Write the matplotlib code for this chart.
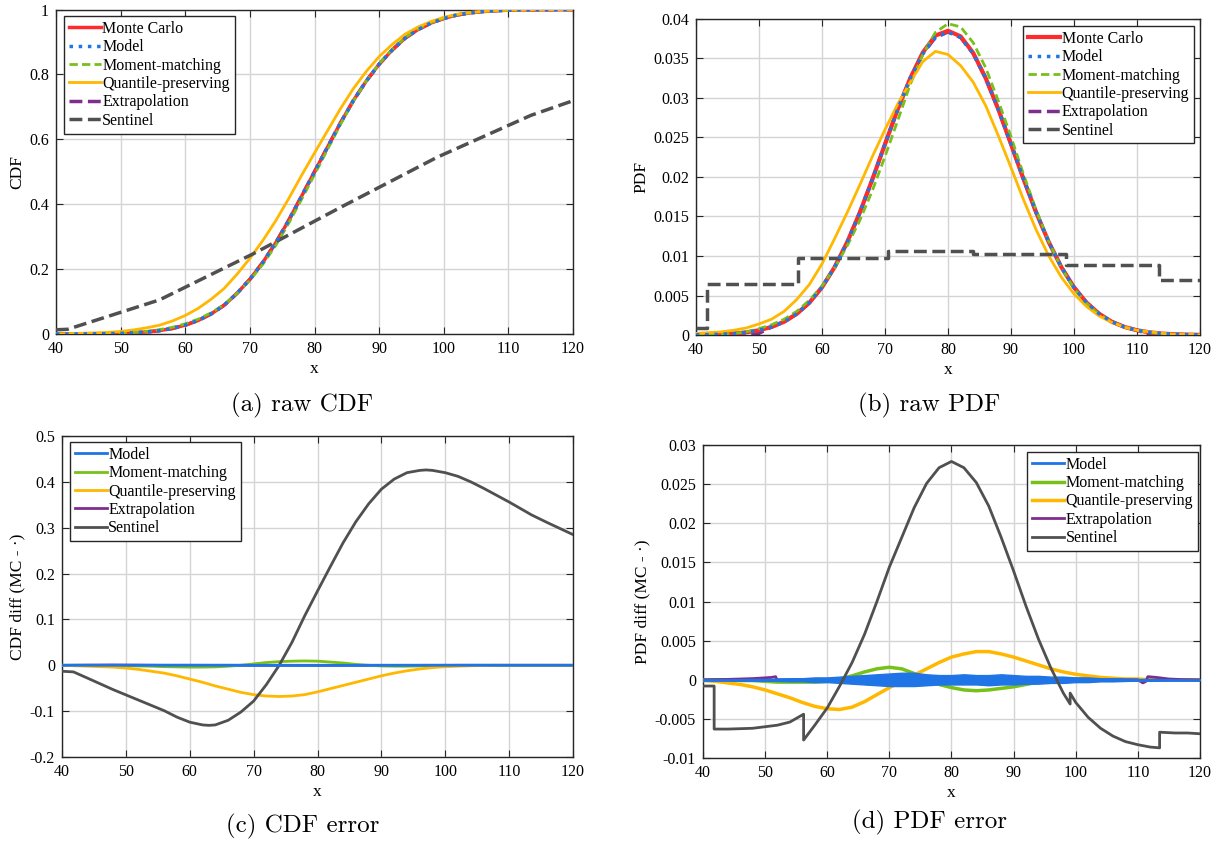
import matplotlib
matplotlib.use('Agg')
import matplotlib.pyplot as plt
from matplotlib.ticker import FuncFormatter, MultipleLocator

plt.rcParams['font.family'] = ['Liberation Serif', 'DejaVu Serif']
plt.rcParams['axes.unicode_minus'] = False

# common x grid (step 2)
x = list(range(40, 121, 2))

# ---- (a) raw CDF ----
cdf_mc = [0.0001, 0.0001, 0.0003, 0.0005, 0.001, 0.002, 0.0036, 0.0062, 0.0104, 0.017, 0.0274,
          0.0418, 0.0618, 0.0885, 0.1251, 0.1685, 0.2206, 0.281, 0.35, 0.4247, 0.5, 0.5753, 0.65,
          0.719, 0.7794, 0.8315, 0.8749, 0.9115, 0.9382, 0.9582, 0.9726, 0.983, 0.9896, 0.9938,
          0.9964, 0.998, 0.999, 0.9995, 0.9997, 0.9999, 0.9999]
cdf_model = [0.0001, 0.0001, 0.0003, 0.0005, 0.001, 0.002, 0.0036, 0.0062, 0.0104, 0.017, 0.0275,
             0.0419, 0.0619, 0.0886, 0.1251, 0.1684, 0.2205, 0.281, 0.3501, 0.4248, 0.5, 0.5752, 0.6499,
             0.719, 0.7794, 0.8314, 0.8749, 0.9115, 0.9382, 0.9582, 0.9726, 0.983, 0.9896, 0.9938,
             0.9964, 0.998, 0.999, 0.9995, 0.9997, 0.9999, 0.9999]
cdf_mm = [0.0001, 0.0001, 0.0003, 0.0008, 0.0015, 0.003, 0.0051, 0.0082, 0.0134, 0.0205, 0.0314,
          0.0458, 0.0653, 0.0905, 0.1251, 0.1655, 0.2146, 0.273, 0.341, 0.4152, 0.491, 0.5683, 0.645,
          0.717, 0.7794, 0.833, 0.8769, 0.9135, 0.9397, 0.9592, 0.9731, 0.983, 0.9896, 0.9938,
          0.9964, 0.998, 0.999, 0.9995, 0.9997, 0.9999, 0.9999]
cdf_qp = [0.0001, 0.0011, 0.0023, 0.0035, 0.005, 0.008, 0.0126, 0.019, 0.027, 0.040, 0.057,
          0.079, 0.107, 0.140, 0.184, 0.233, 0.288, 0.349, 0.417, 0.489, 0.558, 0.626, 0.694,
          0.756, 0.809, 0.855, 0.892, 0.924, 0.946, 0.963, 0.976, 0.985, 0.991, 0.994,
          0.9966, 0.998, 0.999, 0.9995, 0.9997, 0.9999, 0.9999]
cdf_ext = [0.0, 0.0, 0.0001, 0.0003, 0.0007, 0.0016, 0.0036, 0.0062, 0.0104, 0.017, 0.0274,
           0.0418, 0.0618, 0.0885, 0.1251, 0.1685, 0.2206, 0.281, 0.35, 0.4247, 0.5, 0.5753, 0.65,
           0.719, 0.7794, 0.8315, 0.8749, 0.9115, 0.9382, 0.9582, 0.9726, 0.983, 0.9896, 0.9938,
           0.9964, 0.998, 0.9992, 0.9996, 0.9998, 0.9999, 0.9999]
sent_cdf_x = [40, 41.8, 56, 70.5, 84, 99, 113.5, 120]
sent_cdf = [0.013, 0.0145, 0.105, 0.247, 0.390, 0.545, 0.674, 0.719]

# ---- (b) raw PDF ----
pdf_mc = [0.00002, 0.00005, 0.0001, 0.00018, 0.00034, 0.0006, 0.00102, 0.00168, 0.00268, 0.00409,
          0.00604, 0.00858, 0.01175, 0.0155, 0.01971, 0.02416, 0.02854, 0.03248, 0.03575, 0.0379,
          0.0385, 0.0378, 0.0357, 0.03248, 0.02854, 0.02416, 0.01971, 0.0155, 0.01175, 0.00858,
          0.00604, 0.00409, 0.00268, 0.00168, 0.00102, 0.0006, 0.00034, 0.00018, 0.0001, 0.00005, 0.00002]
pdf_model = [0.00002, 0.00005, 0.0001, 0.00018, 0.00034, 0.0006, 0.00102, 0.00168, 0.00268, 0.00409,
             0.00604, 0.00858, 0.01175, 0.0155, 0.01971, 0.02416, 0.02854, 0.03248, 0.03562, 0.03766,
             0.03836, 0.03766, 0.03562, 0.03248, 0.02854, 0.02416, 0.01971, 0.0155, 0.01175, 0.00858,
             0.00604, 0.00409, 0.00268, 0.00168, 0.00102, 0.0006, 0.00034, 0.00018, 0.0001, 0.00005, 0.00002]
pdf_mm = [0.00002, 0.00005, 0.0001, 0.0002, 0.0004, 0.0008, 0.0013, 0.002, 0.003, 0.0044,
          0.0062, 0.0085, 0.0113, 0.0145, 0.0183, 0.0226, 0.0271, 0.0317, 0.0355, 0.0383,
          0.0394, 0.039, 0.037, 0.0338, 0.0296, 0.0251, 0.0203, 0.0158, 0.0118, 0.0085,
          0.0059, 0.004, 0.0026, 0.0017, 0.001, 0.0006, 0.0003, 0.0002, 0.0001, 0.00005, 0.00002]
pdf_qp = [0.0002, 0.0003, 0.0004, 0.0006, 0.0009, 0.0014, 0.0020, 0.0030, 0.0045, 0.0064,
          0.0090, 0.0122, 0.0155, 0.0190, 0.0226, 0.0260, 0.0292, 0.0320, 0.0346, 0.0359,
          0.0355, 0.0341, 0.0320, 0.0290, 0.0252, 0.0212, 0.0171, 0.0133, 0.0100, 0.0073,
          0.0052, 0.0036, 0.0024, 0.0016, 0.0010, 0.0006, 0.0004, 0.0002, 0.0001, 0.0001, 0.0]
pdf_ext = [0.0, 0.00002, 0.00004, 0.00007, 0.00012, 0.00022, 0.00102, 0.00168, 0.00268, 0.00409,
           0.00604, 0.00858, 0.01175, 0.0155, 0.01971, 0.02416, 0.02854, 0.03248, 0.03562, 0.03766,
           0.03836, 0.03766, 0.03562, 0.03248, 0.02854, 0.02416, 0.01971, 0.0155, 0.01175, 0.00858,
           0.00604, 0.00409, 0.00268, 0.00168, 0.00102, 0.0006, 0.00008, 0.00005, 0.00003, 0.00002, 0.00001]
sent_pdf_x = [40, 41.8, 41.8, 56.2, 56.2, 70.5, 70.5, 84, 84, 98.8, 98.8, 113.5, 113.5, 120]
sent_pdf = [0.0009, 0.0009, 0.0064, 0.0064, 0.0098, 0.0098, 0.0106, 0.0106, 0.0103, 0.0103,
            0.0089, 0.0089, 0.0069, 0.0069]

# ---- (c) CDF error (MC - method) ----
cdf_diff_model_x = [40, 60, 80, 100, 120]
cdf_diff_model = [0.0, 0.0002, -0.0003, 0.0001, 0.0]
cdf_diff_mm = [0, 0, 0, -0.0003, -0.0005, -0.001, -0.0015, -0.002, -0.003, -0.0035, -0.004,
               -0.004, -0.0035, -0.002, 0.0, 0.003, 0.006, 0.008, 0.009, 0.0095, 0.009, 0.007, 0.005,
               0.002, 0.0, -0.0015, -0.002, -0.002, -0.0015, -0.001, -0.0005, 0, 0, 0, 0, 0, 0, 0, 0, 0, 0]
cdf_diff_qp = [0.0, -0.001, -0.002, -0.003, -0.004, -0.006, -0.009, -0.013, -0.017, -0.023, -0.030,
               -0.037, -0.045, -0.052, -0.059, -0.064, -0.067, -0.068, -0.067, -0.064, -0.058, -0.051,
               -0.044, -0.037, -0.030, -0.023, -0.017, -0.012, -0.008, -0.005, -0.003, -0.002, -0.001,
               -0.0005, 0, 0, 0, 0, 0, 0, 0]
cdf_diff_ext_x = [40, 44, 48, 52, 56, 120]
cdf_diff_ext = [0.0, 0.0004, 0.0007, 0.0004, 0.0, 0.0]
cdf_diff_sent_x = [40, 41.8, 44, 48, 52, 56, 58, 60, 62, 63, 64, 66, 68, 70, 72, 74, 76, 78, 80, 82,
                   84, 86, 88, 90, 92, 94, 96, 97, 98, 100, 102, 104, 106, 108, 110, 112, 113.5, 116,
                   118, 120]
cdf_diff_sent = [-0.013, -0.0144, -0.028, -0.053, -0.076, -0.099, -0.113, -0.124, -0.13, -0.131,
                 -0.13, -0.12, -0.102, -0.078, -0.042, 0.0, 0.05, 0.108, 0.162, 0.215, 0.267, 0.313,
                 0.352, 0.384, 0.406, 0.42, 0.425, 0.426, 0.425, 0.42, 0.412, 0.40, 0.386, 0.371,
                 0.356, 0.34, 0.328, 0.311, 0.298, 0.285]

# ---- (d) PDF error (MC - method) ----
pdf_diff_model_hi = [0.00005, 0.00005, 0.00005, 0.00008, 0.0001, 0.0001, 0.00015, 0.0002, 0.0002,
                     0.0003, 0.0003, 0.0004, 0.0005, 0.0006, 0.0007, 0.0008, 0.0009, 0.0009, 0.0007,
                     0.0006, 0.0006, 0.0007, 0.0006, 0.0006, 0.0007, 0.0006, 0.0005, 0.0005, 0.0004,
                     0.0004, 0.0003, 0.0003, 0.0002, 0.0002, 0.00015, 0.0001, 0.0001, 0.00008,
                     0.00005, 0.00005, 0.00005]
pdf_diff_model_lo = [-0.00005, -0.00005, -0.00005, -0.00008, -0.0001, -0.0001, -0.00015, -0.0002,
                     -0.0002, -0.0003, -0.0003, -0.0004, -0.0005, -0.0006, -0.0007, -0.0008, -0.0008,
                     -0.0008, -0.0007, -0.0006, -0.0006, -0.0006, -0.0006, -0.0007, -0.0006, -0.0006,
                     -0.0005, -0.0005, -0.0004, -0.0004, -0.0003, -0.0003, -0.0002, -0.0002, -0.00015,
                     -0.0001, -0.0001, -0.00008, -0.00005, -0.00005, -0.00005]
pdf_diff_mm = [0, 0, 0, -0.0001, -0.0001, -0.0002, -0.0003, -0.0003, -0.0003, -0.0003, -0.0002,
               0.0001, 0.0005, 0.0010, 0.0014, 0.0016, 0.0014, 0.0008, 0.0001, -0.0006, -0.0010,
               -0.0013, -0.0014, -0.0013, -0.0011, -0.0009, -0.0006, -0.0003, 0.0, 0.0001, 0.0001,
               0.0001, 0.0001, 0, 0, 0, 0, 0, 0, 0, 0]
pdf_diff_qp = [-0.0001, -0.0002, -0.0004, -0.0006, -0.0009, -0.0013, -0.0018, -0.0023, -0.0029,
               -0.0034, -0.0037, -0.0038, -0.0035, -0.0028, -0.0019, -0.0010, -0.0002, 0.0006,
               0.0014, 0.0022, 0.0029, 0.0033, 0.0036, 0.0036, 0.0033, 0.0029, 0.0024, 0.0019,
               0.0014, 0.0010, 0.0007, 0.0005, 0.0003, 0.0002, 0.0001, 0.0001, 0, 0, 0, 0, 0]
pdf_diff_ext_x = [40, 44, 46, 48, 50, 51, 51.7, 51.9, 54, 108, 110, 110.8, 111.3, 111.6, 113, 115,
                  117, 120]
pdf_diff_ext = [0, 0.00005, 0.0001, 0.00015, 0.00025, 0.0003, 0.0004, 0.0, 0, 0, 0, -0.0004,
                -0.0002, 0.0004, 0.0003, 0.0001, 0.00003, 0]
pdf_diff_sent_x = [40, 41.8, 41.8, 44, 48, 52, 54, 56.2, 56.2, 58, 60, 62, 64, 66, 68, 70, 72, 74,
                   76, 78, 80, 82, 84, 86, 88, 90, 92, 94, 96, 98, 99.1, 99.1, 100, 102, 104, 106,
                   108, 110, 112, 113.5, 113.5, 116, 118, 120]
pdf_diff_sent = [-0.0008, -0.0008, -0.0063, -0.0063, -0.0062, -0.0058, -0.0054, -0.0044, -0.0077,
                 -0.0058, -0.0036, -0.0008, 0.0022, 0.0058, 0.0100, 0.0144, 0.0182, 0.0220, 0.0251,
                 0.0271, 0.0279, 0.0271, 0.0252, 0.0222, 0.0182, 0.0139, 0.0094, 0.0052, 0.0015,
                 -0.0017, -0.0031, -0.0017, -0.0029, -0.0048, -0.0062, -0.0072, -0.0079, -0.0083,
                 -0.0086, -0.0087, -0.0067, -0.0068, -0.0068, -0.0069]

# colours
c_red = '#FF2B2B'
c_blue = '#1F74E6'
c_green = '#77C11A'
c_yellow = '#FFB700'
c_purple = '#7E2F8E'
c_gray = '#505050'

fig = plt.figure(figsize=(12.2, 8.43), dpi=100)
ax_a = fig.add_axes([0.0459, 0.6038, 0.4238, 0.3849])
ax_b = fig.add_axes([0.5705, 0.6026, 0.4131, 0.3749])
ax_c = fig.add_axes([0.0508, 0.1020, 0.4189, 0.3808])
ax_d = fig.add_axes([0.5762, 0.1008, 0.4074, 0.3713])

fmt = FuncFormatter(lambda v, p: '%g' % round(v, 6))


def style(ax, ylabel, ystep, ylim):
    ax.set_xlim(40, 120)
    ax.set_ylim(*ylim)
    ax.xaxis.set_major_locator(MultipleLocator(10))
    ax.yaxis.set_major_locator(MultipleLocator(ystep))
    ax.yaxis.set_major_formatter(fmt)
    ax.grid(True, color='#d4d4d4', lw=1)
    ax.set_axisbelow(True)
    ax.tick_params(direction='in', top=True, right=True, length=5, labelsize=11.5, pad=5,
                   color='#262626')
    for s in ax.spines.values():
        s.set_color('#262626')
        s.set_linewidth(1)
    ax.set_xlabel('x', fontsize=12.5, labelpad=3)
    ax.set_ylabel(ylabel, fontsize=12.5, labelpad=3)


def legend(ax, anchor, loc, handles=None, labels=None):
    kw = dict(loc=loc, bbox_to_anchor=anchor, borderaxespad=0, fontsize=11.5,
              handlelength=2.0, handletextpad=0.1, labelspacing=0.15, borderpad=0.3,
              fancybox=False, framealpha=1, edgecolor='#262626')
    if handles is None:
        leg = ax.legend(**kw)
    else:
        leg = ax.legend(handles, labels, **kw)
    leg.get_frame().set_linewidth(1)


# (a)
ax_a.plot(x, cdf_mc, color=c_red, lw=2.5, label='Monte Carlo', zorder=3)
ax_a.plot(x, cdf_model, color=c_blue, lw=2.5, ls=':', label='Model', zorder=7)
ax_a.plot(x, cdf_mm, color=c_green, lw=2, ls=(0, (3, 1.5)), label='Moment-matching', zorder=4)
ax_a.plot(x, cdf_qp, color=c_yellow, lw=2, label='Quantile-preserving', zorder=5)
ax_a.plot(x, cdf_ext, color=c_purple, lw=2.5, ls='--', label='Extrapolation', zorder=2)
ax_a.plot(sent_cdf_x, sent_cdf, color=c_gray, lw=2.5, ls='--', label='Sentinel', zorder=6)
style(ax_a, 'CDF', 0.2, (0, 1))
legend(ax_a, (0.0155, 0.980), 'upper left')

# (b)
ax_b.plot(x, pdf_mc, color=c_red, lw=3, label='Monte Carlo', zorder=3)
ax_b.plot(x, pdf_model, color=c_blue, lw=2.5, ls=':', label='Model', zorder=7)
ax_b.plot(x, pdf_mm, color=c_green, lw=2, ls=(0, (3, 1.5)), label='Moment-matching', zorder=4)
ax_b.plot(x, pdf_qp, color=c_yellow, lw=2, label='Quantile-preserving', zorder=5)
ax_b.plot(x, pdf_ext, color=c_purple, lw=2.5, ls='--', label='Extrapolation', zorder=2)
ax_b.plot(sent_pdf_x, sent_pdf, color=c_gray, lw=2.5, ls='--', label='Sentinel', zorder=6)
style(ax_b, 'PDF', 0.005, (0, 0.04))
legend(ax_b, (0.988, 0.978), 'upper right')

# (c)
ax_c.plot(cdf_diff_model_x, cdf_diff_model, color=c_blue, lw=2, label='Model', zorder=6)
ax_c.plot(x, cdf_diff_mm, color=c_green, lw=2, label='Moment-matching', zorder=4)
ax_c.plot(x, cdf_diff_qp, color=c_yellow, lw=2, label='Quantile-preserving', zorder=4)
ax_c.plot(cdf_diff_ext_x, cdf_diff_ext, color=c_purple, lw=2, label='Extrapolation', zorder=3)
ax_c.plot(cdf_diff_sent_x, cdf_diff_sent, color=c_gray, lw=2, label='Sentinel', zorder=5)
style(ax_c, 'CDF diff (MC - \u00b7)', 0.1, (-0.2, 0.5))
legend(ax_c, (0.0157, 0.981), 'upper left')

# (d)
ax_d.plot(x, pdf_diff_mm, color=c_green, lw=2.5, label='Moment-matching', zorder=3)
ax_d.plot(x, pdf_diff_qp, color=c_yellow, lw=2.5, label='Quantile-preserving', zorder=3)
ax_d.plot(pdf_diff_ext_x, pdf_diff_ext, color=c_purple, lw=2, label='Extrapolation', zorder=3)
ax_d.fill_between(x, pdf_diff_model_lo, pdf_diff_model_hi, color=c_blue, lw=1, zorder=4)
ax_d.plot([40, 120], [0, 0], color=c_blue, lw=2, label='Model', zorder=4)
ax_d.plot(pdf_diff_sent_x, pdf_diff_sent, color=c_gray, lw=2, label='Sentinel', zorder=5)
handles, labels = ax_d.get_legend_handles_labels()
order = [labels.index(n) for n in ['Model', 'Moment-matching', 'Quantile-preserving',
                                   'Extrapolation', 'Sentinel']]
style(ax_d, 'PDF diff (MC - \u00b7)', 0.005, (-0.01, 0.03))
legend(ax_d, (0.996, 0.978), 'upper right',
       [handles[i] for i in order], [labels[i] for i in order])

# sub-captions
for cx, cy, txt in [(302, 405, '(a) raw CDF'), (929, 405, '(b) raw PDF'),
                    (303, 826, '(c) CDF error'), (929, 822, '(d) PDF error')]:
    fig.text(cx / 1220, 1 - cy / 843, txt, ha='center', va='center', fontsize=18,
             family='cmr10')

fig.savefig('out.png', dpi=100)
